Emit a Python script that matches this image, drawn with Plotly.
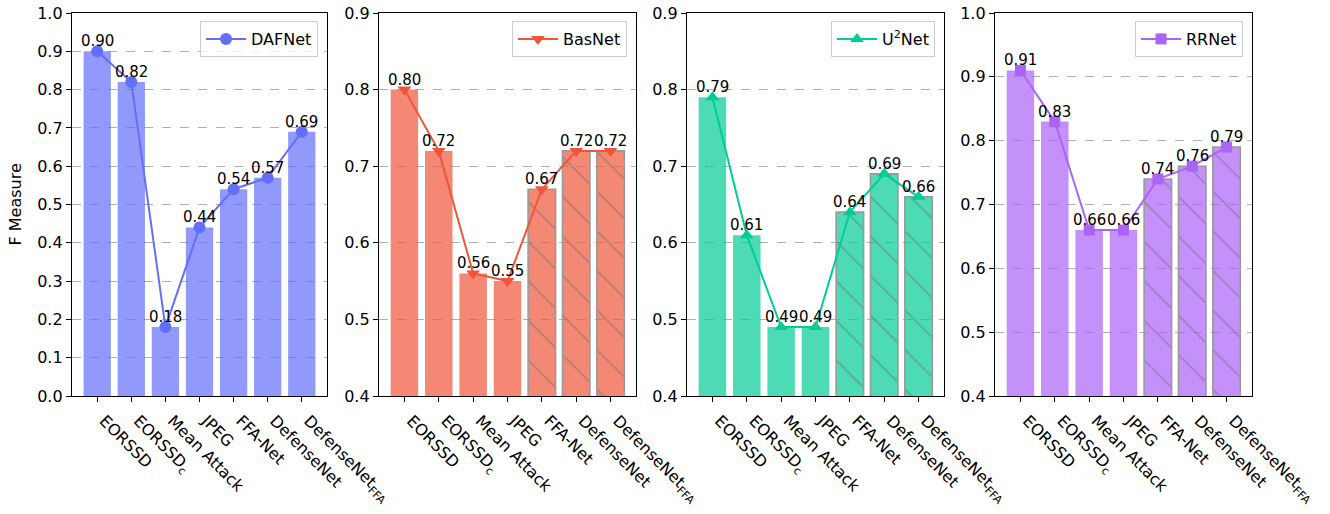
import plotly.graph_objects as go

# Evaluation settings on the x axis
categories = ["EORSSD", "EORSSD<sub>c</sub>", "Mean Attack", "JPEG",
              "FFA-Net", "DefenseNet", "DefenseNet<sub>FFA</sub>"]

# F-measure per model
dafnet = [0.90, 0.82, 0.18, 0.44, 0.54, 0.57, 0.69]
basnet = [0.80, 0.72, 0.56, 0.55, 0.67, 0.72, 0.72]
u2net = [0.79, 0.61, 0.49, 0.49, 0.64, 0.69, 0.66]
rrnet = [0.91, 0.83, 0.66, 0.66, 0.74, 0.76, 0.79]

model_names = ["DAFNet", "BasNet", "U<sup>2</sup>Net", "RRNet"]
model_scores = [dafnet, basnet, u2net, rrnet]
y_limits = [(0.0, 1.0), (0.4, 0.9), (0.4, 0.9), (0.4, 1.0)]

colors = [(99, 110, 250), (239, 85, 59), (0, 204, 150), (171, 99, 250)]
symbols = ["circle", "triangle-down", "triangle-up", "square"]
hatch_defense = [False, True, True, True]

W, H = 1330, 514
panel_x = [(72, 327), (379, 636), (687, 944), (995, 1252)]
panel_top, panel_bottom = 13, 396
FONT = "DejaVu Sans"
TICK_SIZE = 16

fig = go.Figure()
layout = dict(
    width=W, height=H, autosize=False,
    margin=dict(l=0, r=0, t=0, b=0, pad=0),
    paper_bgcolor="white", plot_bgcolor="white",
    font=dict(family=FONT, size=TICK_SIZE, color="black"),
    annotations=[],
)

ydom = [1 - panel_bottom / H, 1 - panel_top / H]
xs = list(range(len(categories)))

for k, (name, scores) in enumerate(zip(model_names, model_scores)):
    n = k + 1
    xa = "x" if n == 1 else f"x{n}"
    ya = "y" if n == 1 else f"y{n}"
    leg = "legend" if n == 1 else f"legend{n}"
    r, g, b = colors[k]
    solid = f"rgb({r},{g},{b})"
    fill = f"rgba({r},{g},{b},0.7)"

    hatched = [hatch_defense[k] and i >= 4 for i in xs]
    fig.add_trace(go.Bar(
        x=xs, y=scores, width=0.8, xaxis=xa, yaxis=ya,
        base=0,
        showlegend=False, hoverinfo="skip",
        marker=dict(
            color=fill,
            line=dict(color=["#9a9a9a" if h else "rgba(0,0,0,0)" for h in hatched],
                      width=[1.6 if h else 0 for h in hatched]),
            pattern=dict(shape=["\\" if h else "" for h in hatched],
                         fillmode="overlay", fgcolor="rgba(105,105,105,0.85)",
                         size=28, solidity=0.06),
        ),
    ))
    fig.add_trace(go.Scatter(
        x=xs, y=scores, xaxis=xa, yaxis=ya, name=name, legend=leg,
        mode="lines+markers",
        line=dict(color=solid, width=2),
        marker=dict(color=solid, symbol=symbols[k],
                    size=12 if symbols[k] != "square" else 11),
    ))

    x0, x1 = panel_x[k]
    layout[f"xaxis{'' if n == 1 else n}"] = dict(
        domain=[x0 / W, x1 / W], anchor=ya, range=[-0.74, 6.74],
        tickmode="array", tickvals=xs, ticktext=categories, tickangle=45,
        ticks="outside", ticklen=5, tickwidth=1.2, tickcolor="black",
        ticklabelshift=7, ticklabelstandoff=3,
        showline=True, mirror=True, linecolor="black", linewidth=1.3,
        showgrid=False, zeroline=False, automargin=False,
        tickfont=dict(size=TICK_SIZE),
    )
    lo, hi = y_limits[k]
    layout[f"yaxis{'' if n == 1 else n}"] = dict(
        domain=ydom, anchor=xa, range=[lo, hi],
        tick0=0, dtick=0.1, tickformat=".1f",
        ticks="outside", ticklen=5, tickwidth=1.2, tickcolor="black",
        showline=True, mirror=True, linecolor="black", linewidth=1.3,
        showgrid=True, gridcolor="#b0b0b0", gridwidth=1, griddash="dash",
        zeroline=False, automargin=False, tickfont=dict(size=TICK_SIZE),
    )
    layout[leg] = dict(
        x=(x1 - 9) / W, y=1 - 21 / H, xanchor="right", yanchor="top",
        xref="paper", yref="paper",
        bgcolor="rgba(255,255,255,0.8)", bordercolor="#cccccc", borderwidth=1,
        font=dict(size=TICK_SIZE), itemwidth=40,
    )
    for i, v in enumerate(scores):
        layout["annotations"].append(dict(
            x=i, y=v, xref=xa, yref=ya, text=f"{v:.2f}", showarrow=False,
            yanchor="bottom", xanchor="center", yshift=-1,
            font=dict(size=15, family=FONT),
        ))

layout["annotations"].append(dict(
    x=15 / W, y=1 - ((panel_top + panel_bottom) / 2) / H, xref="paper", yref="paper",
    text="F Measure", textangle=-90, showarrow=False,
    xanchor="center", yanchor="middle", font=dict(size=TICK_SIZE, family=FONT),
))

fig.update_layout(**layout)
fig.write_html("out.html")
